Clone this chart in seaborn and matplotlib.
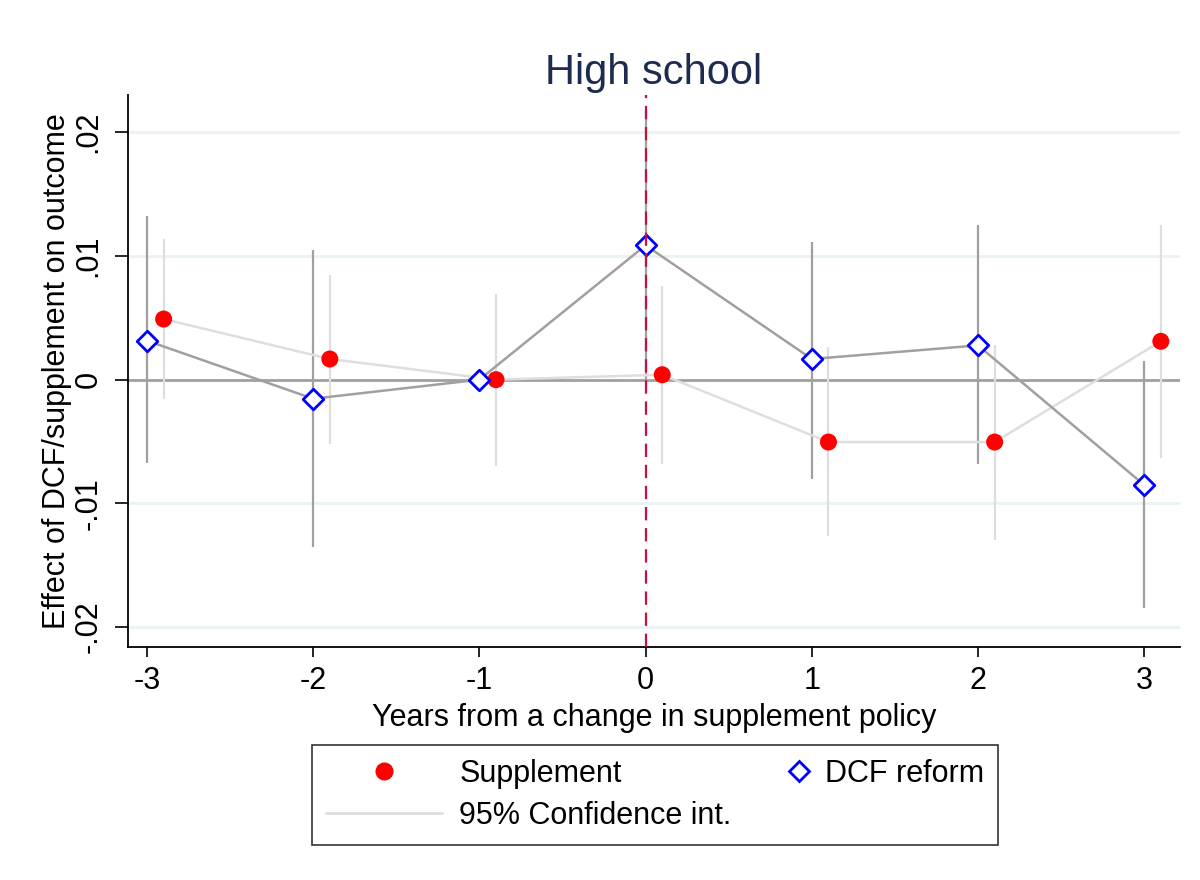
import matplotlib
matplotlib.use("Agg")
import matplotlib.pyplot as plt
from matplotlib.lines import Line2D
from matplotlib.legend_handler import HandlerLine2D
import seaborn as sns
import pandas as pd

# event-time estimates
years = [-3, -2, -1, 0, 1, 2, 3]

dcf_coef = [0.00315, -0.00154, 0.0, 0.01086, 0.00167, 0.00277, -0.00851]
dcf_lo = [-0.0067, -0.01356, 0.0, -0.0001, -0.0080, -0.00682, -0.01849]
dcf_hi = [0.0132, 0.0105, 0.0, 0.0218, 0.0111, 0.01247, 0.00148]

sup_coef = [0.0049, 0.00167, 0.0, 0.0004, -0.00504, -0.00504, 0.0031]
sup_lo = [-0.0016, -0.0052, -0.0070, -0.00682, -0.01267, -0.01293, -0.00633]
sup_hi = [0.0114, 0.00849, 0.00693, 0.00754, 0.00264, 0.00277, 0.01253]
sup_shift = 0.1

ytick_vals = [-0.02, -0.01, 0, 0.01, 0.02]
ytick_labels = ["-.02", "-.01", "0", ".01", ".02"]

dcf = pd.DataFrame({"year": years, "coef": dcf_coef, "lo": dcf_lo, "hi": dcf_hi})
sup = pd.DataFrame({"year": [y + sup_shift for y in years], "coef": sup_coef,
                    "lo": sup_lo, "hi": sup_hi})


class MarkerRight(HandlerLine2D):
    # puts the legend marker near the right end of the handle box
    def __init__(self, inset, **kw):
        super().__init__(**kw)
        self.inset = inset

    def get_xdata(self, legend, xdescent, ydescent, width, height, fontsize):
        x = width - xdescent - self.inset
        return [x, x], [x]


sns.set_style("white")
plt.rcParams["font.family"] = ["Liberation Sans", "DejaVu Sans"]
plt.rcParams["text.color"] = "black"
plt.rcParams["axes.labelcolor"] = "black"
plt.rcParams["xtick.color"] = "black"
plt.rcParams["ytick.color"] = "black"

DARK_GREY = "#a0a0a0"
LIGHT_GREY = "#dedede"

fig = plt.figure(figsize=(12, 8.8), dpi=100)
ax = fig.add_axes([0.1067, 0.2648, 0.8766, 0.6272])

for v in ytick_vals:
    if v != 0:
        ax.axhline(v, color="#eaf2f3", lw=2, zorder=0)
ax.axhline(0, color=DARK_GREY, lw=2, zorder=1)

# confidence intervals
ax.vlines(sup["year"], sup["lo"], sup["hi"], color=LIGHT_GREY, lw=1.6, zorder=2)
ax.vlines(dcf["year"], dcf["lo"], dcf["hi"], color=DARK_GREY, lw=1.6, zorder=2)

# connecting lines
sns.lineplot(data=sup, x="year", y="coef", color=LIGHT_GREY, lw=1.8, ax=ax, zorder=3)
sns.lineplot(data=dcf, x="year", y="coef", color=DARK_GREY, lw=1.8, ax=ax, zorder=3)

# point estimates
sns.scatterplot(data=sup, x="year", y="coef", color="red", s=150, edgecolor="none",
                ax=ax, zorder=4)
sns.scatterplot(data=dcf, x="year", y="coef", marker="D", s=110, facecolor="white",
                edgecolor="blue", linewidth=2, ax=ax, zorder=4)

ax.axvline(0, color="#c8103e", lw=1.6, ls=(0, (6, 3.5)), zorder=5)

ax.set_xlim(-3.114, 3.215)
ax.set_ylim(-0.0216, 0.0230)
ax.set_xticks(years)
ax.set_xticklabels([str(y) for y in years])
ax.set_yticks(ytick_vals)
ax.set_yticklabels(ytick_labels, rotation=90, va="center")
ax.tick_params(axis="both", labelsize=22, width=1.2, color="black",
               labelcolor="black", direction="out", left=True, bottom=True)
ax.tick_params(axis="x", length=7.5, pad=6)
ax.tick_params(axis="y", length=9.5, pad=8)

for side in ["top", "right"]:
    ax.spines[side].set_visible(False)
for side in ["left", "bottom"]:
    ax.spines[side].set_color("black")
    ax.spines[side].set_linewidth(1.3)

ax.set_xlabel("Years from a change in supplement policy", fontsize=22, labelpad=5)
ax.set_ylabel("Effect of DCF/supplement on outcome", fontsize=22, labelpad=1)
ax.set_title("High school", fontsize=30, color="#1c2b4f", pad=8)

sup_handle = Line2D([], [], marker="o", color="red", ls="none", markersize=12)
ci_handle = Line2D([], [], color=LIGHT_GREY, lw=2)
dcf_handle = Line2D([], [], marker="D", ls="none", markersize=10, markerfacecolor="white",
                    markeredgecolor="blue", markeredgewidth=2)
leg = fig.legend([sup_handle, ci_handle, dcf_handle],
                 ["Supplement", "95% Confidence int.", "DCF reform"],
                 loc="upper left", bbox_to_anchor=(0.26, 0.1534), borderaxespad=0,
                 ncol=2, fontsize=22, frameon=True, fancybox=False,
                 edgecolor="black", handlelength=3.8, handletextpad=0.56,
                 columnspacing=-1.3, borderpad=0.46, labelspacing=0.39,
                 handler_map={dcf_handle: MarkerRight(6.5)})
leg.get_frame().set_linewidth(1.2)

fig.savefig("out.png", dpi=100)
